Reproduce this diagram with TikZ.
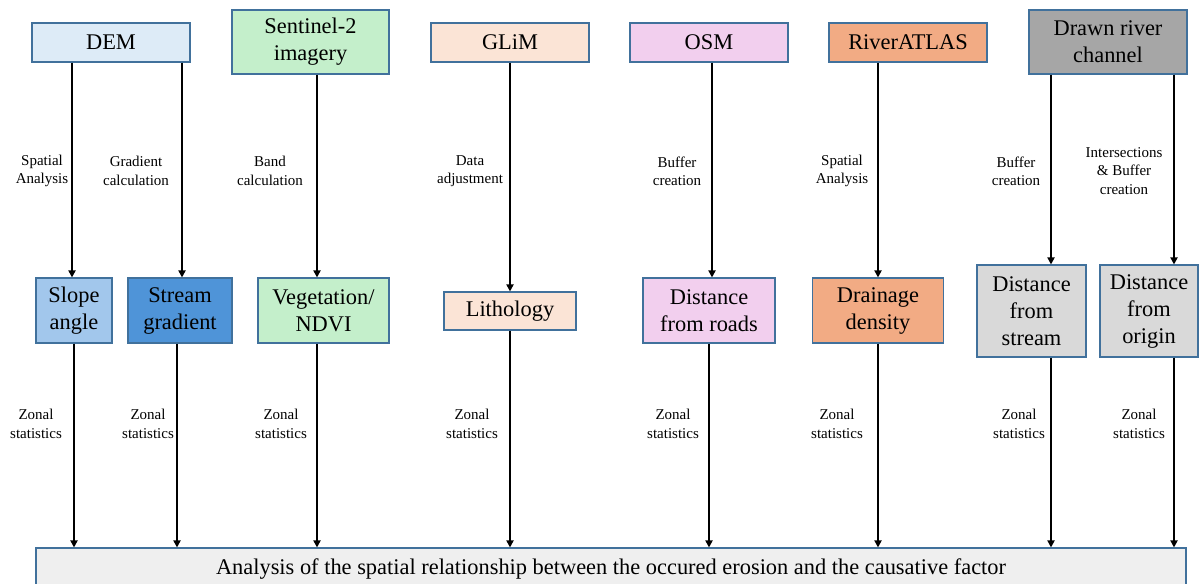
\documentclass[tikz,border=0pt]{standalone}
\usepackage{fontspec}
\setmainfont{Liberation Serif}
\usetikzlibrary{arrows.meta, positioning}
\definecolor{demcolor}{HTML}{DDEBF7}
\definecolor{sentinelcolor}{HTML}{C4EFCB}
\definecolor{glimcolor}{HTML}{FBE4D6}
\definecolor{osmcolor}{HTML}{F2CFEE}
\definecolor{atlascolor}{HTML}{F2AB84}
\definecolor{rivercolor}{HTML}{A6A6A6}
\definecolor{slopecolor}{HTML}{A2C7EC}
\definecolor{gradcolor}{HTML}{4F94D8}
\definecolor{distcolor}{HTML}{D9D9D9}
\definecolor{resultcolor}{HTML}{EFEFEF}
\definecolor{boxborder}{HTML}{41719C}

\begin{document}
\begin{tikzpicture}[x=0.5pt, y=-0.5pt,
    box/.style={rectangle, draw=boxborder, line width=0.55pt, fill=#1, inner sep=0pt,
                align=center, font=\fontsize{11.2}{13.5}\selectfont},
    box/.default={white},
    data flow/.style={-{Triangle[length=3.5pt, width=3.5pt]}, line width=0.9pt},
    op label/.style={align=center, inner sep=0pt, font=\fontsize{7.5}{9.2}\selectfont},
]
    \useasboundingbox (0,0) rectangle (1203,583);
    \clip (0,0) rectangle (1203,583);

    % ── Data sources ──
    \node[box=demcolor, minimum width=79pt, minimum height=19.5pt] (dem) at (111,42.5) {DEM};
    \node[box=sentinelcolor, minimum width=78.5pt, minimum height=32pt] (sentinel) at (310.5,42) {Sentinel-2\\imagery};
    \node[box=glimcolor, minimum width=79pt, minimum height=19.5pt] (glim) at (510,42.5) {GLiM};
    \node[box=osmcolor, minimum width=79pt, minimum height=19.5pt] (osm) at (709,42.5) {OSM};
    \node[box=atlascolor, minimum width=79pt, minimum height=19.5pt] (atlas) at (908,42.5) {RiverATLAS};
    \node[box=rivercolor, minimum width=79pt, minimum height=32pt] (drawn) at (1108,42) {Drawn river\\channel};

    % ── Causative factors ──
    \node[box=slopecolor, minimum width=38pt, minimum height=32.5pt] (slope) at (74,310.5) {Slope\\angle};
    \node[box=gradcolor, minimum width=52pt, minimum height=32.5pt] (streamgrad) at (180,310.5) {Stream\\gradient};
    \node[box=sentinelcolor, minimum width=65.5pt, minimum height=32.5pt] (ndvi) at (323.5,310.5) {Vegetation/\\NDVI};
    \node[box=glimcolor, minimum width=66pt, minimum height=19pt] (litho) at (510,311) {Lithology};
    \node[box=osmcolor, minimum width=66pt, minimum height=32.5pt] (roads) at (709,310.5) {Distance\\from roads};
    \node[box=atlascolor, minimum width=65.5pt, minimum height=32.5pt] (drainage) at (878,310.5) {Drainage\\density};
    \node[box=distcolor, minimum width=54.5pt, minimum height=46pt] (diststream) at (1031.5,311) {Distance\\from\\stream};
    \node[box=distcolor, minimum width=49pt, minimum height=46pt] (distorigin) at (1149,311) {Distance\\from\\origin};

    % ── Analysis ──
    \node[box=resultcolor, minimum width=575pt, minimum height=21pt] (result) at (611,569)
        {Analysis of the spatial relationship between the occured erosion and the causative factor};

    % ── Processing steps ──
    \draw[data flow] ([xshift=-19.5pt]dem.south) -- ([xshift=-1pt]slope.north);
    \draw[data flow] ([xshift=35.5pt]dem.south) -- ([xshift=1pt]streamgrad.north);
    \draw[data flow] ([xshift=3.25pt]sentinel.south) -- ([xshift=-3.25pt]ndvi.north);
    \draw[data flow] (glim.south) -- (litho.north);
    \draw[data flow] ([xshift=1.5pt]osm.south) -- ([xshift=1.5pt]roads.north);
    \draw[data flow] ([xshift=-15pt]atlas.south) -- (drainage.north);
    \draw[data flow] ([xshift=-28.5pt]drawn.south) -- ([xshift=9.75pt]diststream.north);
    \draw[data flow] ([xshift=33pt]drawn.south) -- ([xshift=12.5pt]distorigin.north);

    \node[op label] (spatial1) at (42,171) {Spatial\\Analysis};
    \node[op label] (gradcalc) at (136,171) {Gradient\\calculation};
    \node[op label] (bandcalc) at (270,171) {Band\\calculation};
    \node[op label] (adjust) at (470,171) {Data\\adjustment};
    \node[op label] (buffer1) at (677,171) {Buffer\\creation};
    \node[op label] (spatial2) at (842,171) {Spatial\\Analysis};
    \node[op label] (buffer2) at (1016,171) {Buffer\\creation};
    \node[op label] (intersect) at (1124,171) {Intersections\\\& Buffer\\creation};

    % ── Zonal statistics ──
    \foreach \f/\s in {slope/0, streamgrad/-1.5, ndvi/-3.25, litho/0, roads/0,
                       drainage/0, diststream/9.75, distorigin/12.5}
        \draw[data flow] ([xshift=\s pt]\f.south) -- ([xshift=\s pt]\f.south |- result.north);

    \foreach \x [count=\i] in {36, 148, 281, 472, 673, 837, 1019, 1139}
        \node[op label] (zonal\i) at (\x,424) {Zonal\\statistics};

\end{tikzpicture}
\end{document}
